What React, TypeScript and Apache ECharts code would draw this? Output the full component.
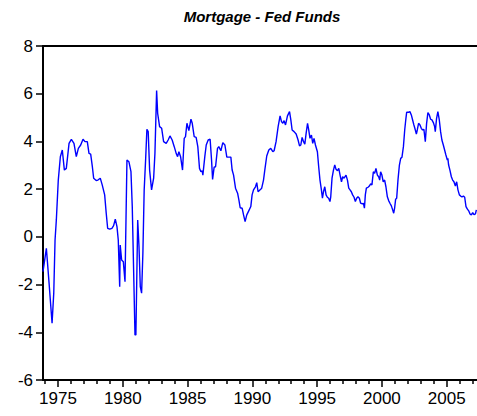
import React, { useEffect, useRef } from "react";
import * as echarts from "echarts";

const years: number[] = [
  1973.84, 1974.10, 1974.31, 1974.54, 1974.67, 1974.77, 1974.87, 1975.02, 1975.18, 1975.33,
  1975.49, 1975.64, 1975.85, 1976.03, 1976.23, 1976.41, 1976.57, 1976.75, 1976.93, 1977.08,
  1977.26, 1977.39, 1977.52, 1977.65, 1977.75, 1977.95, 1978.08, 1978.26, 1978.41, 1978.60,
  1978.72, 1978.83, 1978.99, 1979.16, 1979.29, 1979.42, 1979.55, 1979.65, 1979.76, 1979.80,
  1979.91, 1980.04, 1980.17, 1980.32, 1980.47, 1980.63, 1980.73, 1980.84, 1980.94, 1981.01,
  1981.15, 1981.25, 1981.35, 1981.45, 1981.55, 1981.65, 1981.76, 1981.86, 1981.96, 1982.07,
  1982.22, 1982.38, 1982.48, 1982.61, 1982.69, 1982.84, 1983.00, 1983.15, 1983.35, 1983.50,
  1983.64, 1983.81, 1983.97, 1984.12, 1984.23, 1984.33, 1984.46, 1984.61, 1984.74, 1984.84,
  1984.95, 1985.10, 1985.26, 1985.36, 1985.51, 1985.66, 1985.79, 1985.92, 1986.03, 1986.13,
  1986.18, 1986.33, 1986.44, 1986.59, 1986.74, 1986.85, 1986.93, 1987.05, 1987.16, 1987.31,
  1987.41, 1987.57, 1987.72, 1987.88, 1988.03, 1988.18, 1988.34, 1988.44, 1988.55, 1988.70,
  1988.86, 1988.96, 1989.06, 1989.21, 1989.32, 1989.44, 1989.57, 1989.73, 1989.88, 1989.98,
  1990.09, 1990.24, 1990.34, 1990.44, 1990.60, 1990.72, 1990.86, 1990.96, 1991.11, 1991.27,
  1991.42, 1991.58, 1991.68, 1991.83, 1991.99, 1992.14, 1992.25, 1992.35, 1992.45, 1992.56,
  1992.71, 1992.87, 1992.97, 1993.07, 1993.22, 1993.38, 1993.53, 1993.64, 1993.74, 1993.84,
  1993.95, 1994.05, 1994.15, 1994.26, 1994.35, 1994.45, 1994.56, 1994.66, 1994.76, 1994.87,
  1995.02, 1995.12, 1995.22, 1995.33, 1995.41, 1995.49, 1995.59, 1995.69, 1995.79, 1995.89,
  1995.99, 1996.05, 1996.15, 1996.26, 1996.36, 1996.46, 1996.57, 1996.67, 1996.77, 1996.88,
  1996.97, 1997.08, 1997.23, 1997.34, 1997.44, 1997.54, 1997.64, 1997.74, 1997.85, 1997.95,
  1998.05, 1998.15, 1998.26, 1998.36, 1998.49, 1998.57, 1998.65, 1998.72, 1998.80, 1998.93,
  1999.03, 1999.13, 1999.23, 1999.34, 1999.44, 1999.54, 1999.65, 1999.75, 1999.83, 1999.90,
  2000.00, 2000.10, 2000.21, 2000.31, 2000.42, 2000.52, 2000.62, 2000.73, 2000.83, 2000.91,
  2000.98, 2001.06, 2001.14, 2001.24, 2001.35, 2001.45, 2001.55, 2001.66, 2001.76, 2001.84,
  2001.91, 2002.06, 2002.16, 2002.27, 2002.37, 2002.47, 2002.58, 2002.66, 2002.73, 2002.83,
  2002.94, 2003.04, 2003.14, 2003.24, 2003.35, 2003.45, 2003.55, 2003.66, 2003.76, 2003.86,
  2003.97, 2004.07, 2004.12, 2004.22, 2004.32, 2004.43, 2004.53, 2004.63, 2004.74, 2004.84,
  2004.94, 2005.05, 2005.09, 2005.15, 2005.25, 2005.36, 2005.46, 2005.56, 2005.67, 2005.77,
  2005.87, 2005.98, 2006.08, 2006.18, 2006.29, 2006.39, 2006.49, 2006.60, 2006.70, 2006.80,
  2006.90, 2007.01, 2007.11, 2007.22, 2007.29,
];

const spread: number[] = [
  -1.46, -0.48, -1.95, -3.62, -2.36, -0.13, 0.71, 2.38, 3.36, 3.64,
  2.80, 2.87, 3.92, 4.09, 3.92, 3.36, 3.71, 3.85, 4.09, 3.99,
  3.99, 3.50, 3.47, 2.94, 2.46, 2.36, 2.38, 2.46, 2.18, 1.76,
  0.99, 0.36, 0.32, 0.36, 0.47, 0.74, 0.43, -0.13, -2.09, -0.34,
  -0.97, -1.04, -1.88, 3.22, 3.15, 2.73, 1.27, -1.53, -4.11, -4.11,
  0.71, -0.41, -2.09, -2.36, -0.69, 1.97, 3.22, 4.51, 4.41, 2.80,
  1.97, 2.46, 3.50, 6.13, 5.18, 4.62, 4.55, 3.99, 3.92, 4.06,
  4.23, 4.06, 3.78, 3.50, 3.36, 3.57, 3.36, 2.80, 4.13, 4.20,
  4.76, 4.45, 4.93, 4.76, 4.20, 4.17, 3.78, 2.87, 2.73, 2.77,
  2.59, 3.36, 3.85, 4.06, 4.09, 3.22, 2.41, 2.92, 2.94, 3.71,
  3.78, 3.61, 3.95, 3.85, 3.34, 3.34, 3.34, 2.80, 2.59, 2.04,
  1.83, 1.55, 1.22, 1.20, 0.92, 0.64, 0.92, 1.10, 1.27, 1.76,
  1.97, 2.10, 2.27, 1.89, 1.97, 2.04, 2.38, 2.80, 3.39, 3.64,
  3.71, 3.57, 3.61, 3.99, 4.62, 5.07, 4.83, 4.76, 4.87, 4.69,
  5.07, 5.25, 4.90, 4.48, 4.41, 4.31, 4.06, 3.81, 3.85, 4.17,
  3.99, 3.89, 4.34, 4.76, 4.48, 4.13, 4.27, 3.92, 4.13, 3.85,
  3.57, 2.94, 2.38, 1.97, 1.62, 1.89, 2.10, 1.76, 1.66, 1.62,
  1.48, 1.68, 2.46, 2.80, 3.01, 2.83, 2.77, 2.87, 2.59, 2.31,
  2.52, 2.46, 2.59, 2.38, 2.04, 1.97, 1.89, 1.76, 1.66, 1.48,
  1.62, 1.68, 1.62, 1.41, 1.38, 1.41, 1.20, 1.76, 2.04, 2.08,
  2.13, 2.22, 2.18, 2.73, 2.66, 2.87, 2.59, 2.52, 2.38, 2.73,
  2.59, 2.31, 2.38, 2.10, 1.68, 1.52, 1.41, 1.30, 1.13, 0.99,
  1.20, 1.58, 1.62, 2.38, 3.01, 3.29, 3.34, 3.78, 4.48, 4.90,
  5.22, 5.22, 5.25, 5.11, 4.90, 4.69, 4.48, 4.31, 4.48, 4.76,
  4.69, 4.55, 4.48, 4.51, 3.99, 4.76, 5.21, 5.11, 4.93, 4.90,
  4.79, 4.62, 4.41, 4.97, 5.25, 4.90, 4.41, 4.06, 3.85, 3.64,
  3.43, 3.22, 3.29, 3.01, 2.80, 2.52, 2.38, 2.31, 2.13, 2.31,
  1.97, 1.76, 1.71, 1.68, 1.71, 1.66, 1.27, 1.16, 1.09, 0.96,
  0.92, 1.01, 0.93, 0.96, 1.13,
];

const majorYears: number[] = [1975, 1980, 1985, 1990, 1995, 2000, 2005];
const minorYears: number[] = [
  1974, 1976, 1977, 1978, 1979, 1981, 1982, 1983, 1984, 1986, 1987, 1988, 1989,
  1991, 1992, 1993, 1994, 1996, 1997, 1998, 1999, 2001, 2002, 2003, 2004, 2006, 2007,
];
const title = "Mortgage - Fed Funds";

const X_MIN = 1973.84;
const X_MAX = 2007.34;

export default function App() {
  const ref = useRef<HTMLDivElement>(null);
  useEffect(() => {
    if (!ref.current) return;
    const chart = echarts.init(ref.current, undefined, { renderer: "svg" });
    const font = "Arial, 'Liberation Sans', sans-serif";
    const data = years.map((y, i) => [y, spread[i]]);
    chart.setOption({
      animation: false,
      backgroundColor: "#fff",
      graphic: [
        {
          type: "text",
          x: 262,
          y: 16,
          style: {
            text: title,
            font: `italic bold 15px ${font}`,
            fill: "#000",
            textAlign: "center",
            textVerticalAlign: "middle",
          },
        },
      ],
      grid: { left: 43, right: 0, top: 46, bottom: 36 },
      xAxis: [
        {
          type: "value",
          position: "bottom",
          min: X_MIN,
          max: X_MAX,
          axisLine: { show: true, onZero: false, lineStyle: { color: "#000", width: 2 } },
          axisTick: {
            show: true,
            length: 7,
            inside: false,
            customValues: majorYears,
            lineStyle: { color: "#000", width: 1.5 },
          },
          axisLabel: {
            show: true,
            customValues: majorYears,
            margin: 10,
            color: "#000",
            fontSize: 17,
            fontFamily: font,
            formatter: (v: number) => String(Math.round(v)),
          },
          splitLine: { show: false },
        },
        {
          type: "value",
          position: "bottom",
          min: X_MIN,
          max: X_MAX,
          axisLine: { show: false, onZero: false },
          axisTick: {
            show: true,
            length: 4,
            inside: false,
            customValues: minorYears,
            lineStyle: { color: "#000", width: 1.5 },
          },
          axisLabel: { show: false },
          splitLine: { show: false },
        },
        {
          type: "value",
          position: "top",
          min: X_MIN,
          max: X_MAX,
          axisLine: { show: true, onZero: false, lineStyle: { color: "#000", width: 2 } },
          axisTick: { show: false },
          axisLabel: { show: false },
          splitLine: { show: false },
        },
      ],
      yAxis: {
        type: "value",
        min: -6,
        max: 8,
        interval: 2,
        axisLine: { show: true, onZero: false, lineStyle: { color: "#000", width: 2 } },
        axisTick: { show: true, length: 7, inside: false, lineStyle: { color: "#000", width: 1.5 } },
        axisLabel: {
          margin: 10,
          color: "#000",
          fontSize: 17,
          fontFamily: font,
        },
        splitLine: { show: false },
      },
      series: [
        {
          type: "line",
          xAxisIndex: 0,
          data,
          showSymbol: false,
          symbol: "none",
          lineStyle: { color: "#0000ff", width: 1.4 },
        },
      ],
    });
    return () => chart.dispose();
  }, []);
  return (
    <div
      ref={ref}
      style={{ position: "fixed", left: 0, top: 0, width: 477, height: 416 }}
    />
  );
}
